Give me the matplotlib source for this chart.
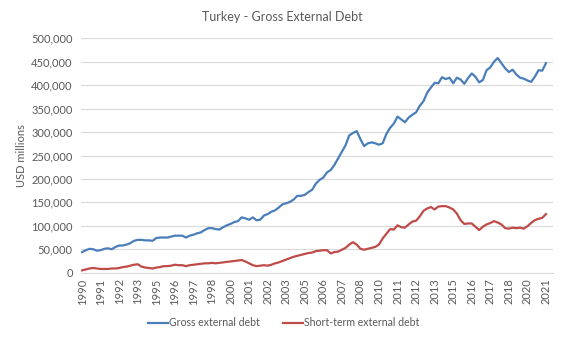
import matplotlib
matplotlib.use("Agg")
import matplotlib.pyplot as plt
from matplotlib.ticker import FuncFormatter

# quarterly, 1990Q1 .. 2021Q2 (USD millions)
gross_debt = [
    44000, 48000, 51000, 50000, 47000, 48000, 51000, 52000, 50000, 55000,
    58000, 58000, 60000, 63000, 68000, 70000, 70000, 69000, 69000, 68000,
    74000, 75000, 75000, 75000, 77000, 79000, 79000, 79000, 75000, 79000,
    81000, 84000, 86000, 91000, 95000, 95000, 93000, 92000, 97000, 101000,
    104000, 108000, 110000, 118000, 116000, 113000, 118000, 112000, 113000, 122000,
    125000, 130000, 133000, 139000, 146000, 148000, 151000, 156000, 164000, 164000,
    166000, 172000, 177000, 190000, 198000, 203000, 214000, 219000, 230000, 244000,
    258000, 272000, 293000, 298000, 302000, 285000, 270000, 276000, 278000, 276000,
    273000, 276000, 296000, 309000, 318000, 333000, 327000, 321000, 331000, 337000,
    342000, 356000, 366000, 384000, 395000, 405000, 404000, 417000, 413000, 416000,
    404000, 416000, 412000, 403000, 415000, 425000, 418000, 406000, 411000, 432000,
    438000, 450000, 458000, 447000, 436000, 428000, 433000, 423000, 416000, 414000,
    410000, 407000, 418000, 432000, 431000, 447000,
]

short_term_debt = [
    5000, 7000, 9000, 10000, 9000, 8000, 8000, 8000, 9000, 9000,
    10000, 12000, 13000, 15000, 17000, 18000, 13000, 11000, 10000, 9000,
    11000, 12000, 14000, 14000, 15000, 17000, 16000, 16000, 14000, 16000,
    17000, 18000, 19000, 20000, 20000, 21000, 20000, 21000, 22000, 23000,
    24000, 25000, 26000, 27000, 24000, 20000, 16000, 14000, 15000, 16000,
    15000, 17000, 20000, 22000, 25000, 28000, 31000, 34000, 36000, 38000,
    40000, 42000, 43000, 46000, 47000, 48000, 48000, 41000, 44000, 45000,
    49000, 53000, 60000, 65000, 60000, 51000, 49000, 51000, 53000, 55000,
    60000, 73000, 83000, 93000, 92000, 101000, 97000, 96000, 103000, 109000,
    111000, 120000, 132000, 137000, 140000, 135000, 141000, 142000, 142000, 139000,
    135000, 126000, 112000, 104000, 105000, 105000, 98000, 91000, 98000, 103000,
    106000, 110000, 107000, 103000, 95000, 94000, 96000, 95000, 96000, 94000,
    99000, 106000, 112000, 115000, 117000, 125000,
]

# Excel shows a label every 5th category
tick_labels = [
    "1990", "1991", "1992", "1993", "1995", "1996", "1997", "1998", "2000",
    "2001", "2002", "2003", "2005", "2006", "2007", "2008", "2010", "2011",
    "2012", "2013", "2015", "2016", "2017", "2018", "2020", "2021",
]

plt.rcParams["font.family"] = ["Lato", "DejaVu Sans"]
text_color = "#595959"

fig = plt.figure(figsize=(5.65, 3.39), dpi=100)
ax = fig.add_axes([81 / 565, 1 - 272.7 / 339, (553 - 81) / 565, (272.7 - 38.3) / 339])

x = list(range(len(gross_debt)))
ax.plot(x, gross_debt, color="#4A7EBB", lw=1.6, label="Gross external debt")
ax.plot(x, short_term_debt, color="#BE4B48", lw=1.6, label="Short-term external debt")

ax.set_ylim(0, 500000)
ax.set_yticks(range(0, 500001, 50000))
ax.yaxis.set_major_formatter(FuncFormatter(lambda v, p: f"{int(v):,}"))
ax.set_xlim(-0.3, 126.9)
ax.set_xticks(range(0, 5 * len(tick_labels), 5))
ax.set_xticklabels(tick_labels, rotation=90)

ax.grid(axis="y", color="#D9D9D9", lw=0.8)
ax.set_axisbelow(True)
for s in ["top", "right", "left"]:
    ax.spines[s].set_visible(False)
ax.spines["bottom"].set_color("#D9D9D9")
ax.tick_params(axis="both", length=0, colors=text_color, labelsize=8)
ax.tick_params(axis="x", pad=4)
ax.tick_params(axis="y", pad=6)

ax.set_ylabel("USD millions", color=text_color, fontsize=8, labelpad=3)
fig.text(0.5, 1 - 17 / 339, "Turkey - Gross External Debt", ha="center", va="center",
         color=text_color, fontsize=9)

fig.legend(loc="center", bbox_to_anchor=(284 / 565, 1 - 323 / 339), ncol=2,
           frameon=False, fontsize=7.6, handlelength=1.9, handletextpad=0.1,
           columnspacing=2.2, labelcolor=text_color)

fig.savefig("out.png", dpi=100)
